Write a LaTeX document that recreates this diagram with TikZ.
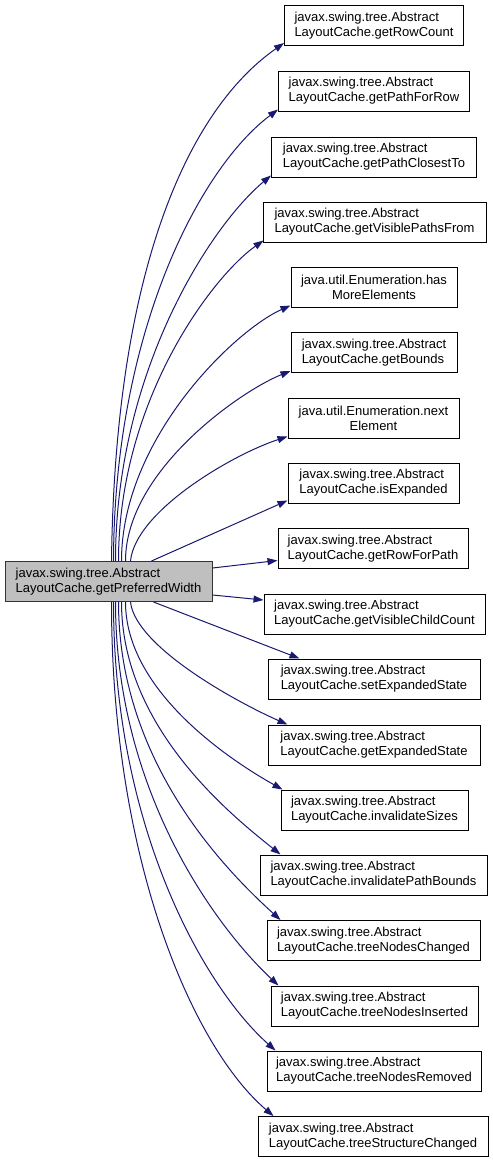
\documentclass[tikz,border=0pt]{standalone}
\usepackage{fontspec}
\setmainfont{Liberation Sans}
\usetikzlibrary{arrows.meta}
\definecolor{edgeblue}{HTML}{191970}
\definecolor{maingray}{HTML}{BFBFBF}
\tikzset{
  box/.style={draw=black, line width=1pt, fill=white, minimum height=40pt, inner sep=0pt, align=left, font=\fontsize{13}{15}\selectfont},
  cbox/.style={box, align=center},
  mainbox/.style={box, fill=maingray, draw=black!80},
  edge/.style={draw=edgeblue, line width=1pt, -{Triangle[length=10pt,width=7pt]}}
}
\begin{document}
\begin{tikzpicture}[x=1pt,y=-1pt]
\useasboundingbox (0,0) rectangle (493,1163);
\node[mainbox, minimum width=207pt] (main) at (108.5,581.5) {javax.swing.tree.Abstract\\LayoutCache.getPreferredWidth};
\node[box, minimum width=179pt] (n1) at (374,25.5) {javax.swing.tree.Abstract\\LayoutCache.getRowCount};
\node[box, minimum width=191pt] (n2) at (374,91) {javax.swing.tree.Abstract\\LayoutCache.getPathForRow};
\node[box, minimum width=205pt] (n3) at (374,157) {javax.swing.tree.Abstract\\LayoutCache.getPathClosestTo};
\node[box, minimum width=223pt] (n4) at (374.5,222) {javax.swing.tree.Abstract\\LayoutCache.getVisiblePathsFrom};
\node[cbox, minimum width=166pt] (n5) at (374,287) {java.util.Enumeration.has\\MoreElements};
\node[box, minimum width=166pt] (n6) at (374,352.5) {javax.swing.tree.Abstract\\LayoutCache.getBounds};
\node[cbox, minimum width=171pt] (n7) at (373.5,418) {java.util.Enumeration.next\\Element};
\node[box, minimum width=171pt] (n8) at (373.5,483) {javax.swing.tree.Abstract\\LayoutCache.isExpanded};
\node[box, minimum width=190pt] (n9) at (373,548.5) {javax.swing.tree.Abstract\\LayoutCache.getRowForPath};
\node[box, minimum width=221pt] (n10) at (374.5,614) {javax.swing.tree.Abstract\\LayoutCache.getVisibleChildCount};
\node[box, minimum width=212pt] (n11) at (374,679) {javax.swing.tree.Abstract\\LayoutCache.setExpandedState};
\node[box, minimum width=212pt] (n12) at (374,745) {javax.swing.tree.Abstract\\LayoutCache.getExpandedState};
\node[box, minimum width=187pt] (n13) at (374.5,810) {javax.swing.tree.Abstract\\LayoutCache.invalidateSizes};
\node[box, minimum width=227pt] (n14) at (373.5,875) {javax.swing.tree.Abstract\\LayoutCache.invalidatePathBounds};
\node[box, minimum width=213pt] (n15) at (373.5,940.5) {javax.swing.tree.Abstract\\LayoutCache.treeNodesChanged};
\node[box, minimum width=207pt] (n16) at (374.5,1006) {javax.swing.tree.Abstract\\LayoutCache.treeNodesInserted};
\node[box, minimum width=214pt] (n17) at (374,1071) {javax.swing.tree.Abstract\\LayoutCache.treeNodesRemoved};
\node[box, minimum width=230pt] (n18) at (373,1136.5) {javax.swing.tree.Abstract\\LayoutCache.treeStructureChanged};
% upper edges
\draw[edge] ([shift={(3,0)}]main.north) .. controls +(3.5,-282) and +(-100,70) .. ([shift={(0,-3)}]n1.south west);
\draw[edge] ([shift={(5,0)}]main.north) .. controls +(0.5,-226) and +(-80,60) .. ([shift={(0,-2)}]n2.south west);
\draw[edge] ([shift={(7,0)}]main.north) .. controls +(0,-190) and +(-60,50) .. ([shift={(0,-2)}]n3.south west);
\draw[edge] ([shift={(10,0)}]main.north) .. controls +(0,-162) and +(-50,35) .. ([shift={(1,-2)}]n4.south west);
\draw[edge] ([shift={(13,0)}]main.north) .. controls +(0,-122) and +(-56,25) .. ([shift={(0,-2)}]n5.south west);
\draw[edge] ([shift={(17,0)}]main.north) .. controls +(0,-90) and +(-50,20) .. ([shift={(0,-2)}]n6.south west);
\draw[edge] ([shift={(22,0)}]main.north) .. controls +(5,-50) and +(-55,18) .. ([shift={(0,-2)}]n7.south west);
\draw[edge] ([shift={(43,0)}]main.north) -- ([shift={(0,-3)}]n8.south west);
\draw[edge] ([shift={(0,-13.5)}]main.east) -- ([shift={(0,12)}]n9.west);
\draw[edge] ([shift={(0,13.5)}]main.east) -- ([shift={(0,-14)}]n10.west);
% lower edges
\draw[edge] ([shift={(45,0)}]main.south) -- ([shift={(32,0)}]n11.north west);
\draw[edge] ([shift={(22,0)}]main.south) .. controls +(5,45) and +(-50,-22) .. ([shift={(20,0)}]n12.north west);
\draw[edge] ([shift={(17,0)}]main.south) .. controls +(0,90) and +(-50,-28) .. ([shift={(2,0)}]n13.north west);
\draw[edge] ([shift={(13,0)}]main.south) .. controls +(0,125) and +(-50,-40) .. ([shift={(21,0)}]n14.north west);
\draw[edge] ([shift={(10,0)}]main.south) .. controls +(0,160) and +(-55,-50) .. ([shift={(14,0)}]n15.north west);
\draw[edge] ([shift={(7,0)}]main.south) .. controls +(0,190) and +(-62,-58) .. ([shift={(8,0)}]n16.north west);
\draw[edge] ([shift={(5,0)}]main.south) .. controls +(0,228) and +(-70,-62) .. ([shift={(9,0)}]n17.north west);
\draw[edge] ([shift={(3,0)}]main.south) .. controls +(0,260) and +(-80,-68) .. ([shift={(16,0)}]n18.north west);
\end{tikzpicture}
\end{document}
